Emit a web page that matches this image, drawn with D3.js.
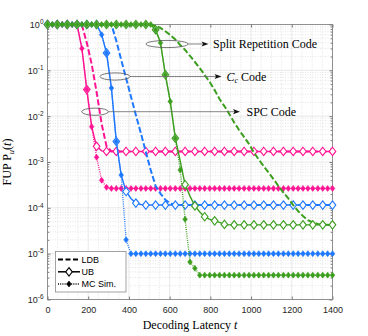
<!DOCTYPE html>
<html>
<head>
<meta charset="utf-8">
<script src="https://cdn.jsdelivr.net/npm/d3@7"></script>
<style>
body { margin: 0; background: #fff; }
svg { display: block; }
.tk text { font-family: "Liberation Sans", Arial, sans-serif; font-size: 9px; fill: #262626; }
.serif { font-family: "Liberation Serif", "Times New Roman", serif; fill: #000; }
.leg { font-family: "Liberation Sans", Arial, sans-serif; font-size: 9px; fill: #000; }
</style>
</head>
<body>
<svg id="chart" width="368" height="336"></svg>
<script>
// decoding latency grid (MC points on every step, UB markers on every 2nd)
var tGrid = [0, 24, 48, 72, 97, 121, 145, 169, 193, 217,
  241, 266, 290, 314, 338, 362, 386, 410, 434, 459,
  483, 507, 531, 555, 579, 603, 628, 652, 676, 700,
  724, 748, 772, 797, 821, 845, 869, 893, 917, 941,
  966, 990, 1014, 1038, 1062, 1086, 1110, 1134, 1159, 1183,
  1207, 1231, 1255, 1279, 1303, 1328, 1352, 1376, 1400];

// SPC code (pink)
var spcLDB = [1, 1, 1, 1, 1, 1, 1, 0.97, 0.40, 0.137,
  0.034, 6.8e-3, 2.2e-3, 1.72e-3, 1.7e-3, 1.7e-3, 1.7e-3, 1.7e-3, 1.7e-3, 1.7e-3,
  1.7e-3, 1.7e-3, 1.7e-3, 1.7e-3, 1.7e-3, 1.7e-3, 1.7e-3, 1.7e-3, 1.7e-3, 1.7e-3,
  1.7e-3, 1.7e-3, 1.7e-3, 1.7e-3, 1.7e-3, 1.7e-3, 1.7e-3, 1.7e-3, 1.7e-3, 1.7e-3,
  1.7e-3, 1.7e-3, 1.7e-3, 1.7e-3, 1.7e-3, 1.7e-3, 1.7e-3, 1.7e-3, 1.7e-3, 1.7e-3,
  1.7e-3, 1.7e-3, 1.7e-3, 1.7e-3, 1.7e-3, 1.7e-3, 1.7e-3, 1.7e-3, 1.7e-3];
var spcUB = [1, 1, 1, 1, 1, 1, 1, 0.3, 0.038, 5.9e-3,
  2.2e-3, 1.75e-3, 1.7e-3, 1.7e-3, 1.7e-3, 1.7e-3, 1.7e-3, 1.7e-3, 1.7e-3, 1.7e-3,
  1.7e-3, 1.7e-3, 1.7e-3, 1.7e-3, 1.7e-3, 1.7e-3, 1.7e-3, 1.7e-3, 1.7e-3, 1.7e-3,
  1.7e-3, 1.7e-3, 1.7e-3, 1.7e-3, 1.7e-3, 1.7e-3, 1.7e-3, 1.7e-3, 1.7e-3, 1.7e-3,
  1.7e-3, 1.7e-3, 1.7e-3, 1.7e-3, 1.7e-3, 1.7e-3, 1.7e-3, 1.7e-3, 1.7e-3, 1.7e-3,
  1.7e-3, 1.7e-3, 1.7e-3, 1.7e-3, 1.7e-3, 1.7e-3, 1.7e-3, 1.7e-3, 1.7e-3];
var spcMC = [1, 1, 1, 1, 1, 1, 1, 0.3, 0.038, 5.9e-3,
  1.27e-3, 4.0e-4, 2.8e-4, 2.65e-4, 2.65e-4, 2.65e-4, 2.65e-4, 2.65e-4, 2.65e-4, 2.65e-4,
  2.65e-4, 2.65e-4, 2.65e-4, 2.65e-4, 2.65e-4, 2.65e-4, 2.65e-4, 2.65e-4, 2.65e-4, 2.65e-4,
  2.65e-4, 2.65e-4, 2.65e-4, 2.65e-4, 2.65e-4, 2.65e-4, 2.65e-4, 2.65e-4, 2.65e-4, 2.65e-4,
  2.65e-4, 2.65e-4, 2.65e-4, 2.65e-4, 2.65e-4, 2.65e-4, 2.65e-4, 2.65e-4, 2.65e-4, 2.65e-4,
  2.65e-4, 2.65e-4, 2.65e-4, 2.65e-4, 2.65e-4, 2.65e-4, 2.65e-4, 2.65e-4, 2.65e-4];

// C_c code (blue)
var ccLDB = [1, 1, 1, 1, 1, 1, 1, 1, 1, 1,
  1, 1, 1, 1, 0.44, 0.17, 0.068, 0.0266, 0.0106, 4.2e-3,
  1.65e-3, 6.7e-4, 3.0e-4, 2.04e-4, 1.5e-4, 1.24e-4, 1.17e-4, 1.15e-4, 1.15e-4, 1.15e-4,
  1.15e-4, 1.15e-4, 1.15e-4, 1.15e-4, 1.15e-4, 1.15e-4, 1.15e-4, 1.15e-4, 1.15e-4, 1.15e-4,
  1.15e-4, 1.15e-4, 1.15e-4, 1.15e-4, 1.15e-4, 1.15e-4, 1.15e-4, 1.15e-4, 1.15e-4, 1.15e-4,
  1.15e-4, 1.15e-4, 1.15e-4, 1.15e-4, 1.15e-4, 1.15e-4, 1.15e-4, 1.15e-4, 1.15e-4];
var ccUB = [1, 1, 1, 1, 1, 1, 1, 1, 1, 1,
  1, 0.6, 0.24, 0.041, 2.8e-3, 5.2e-4, 2.27e-4, 1.6e-4, 1.27e-4, 1.18e-4,
  1.15e-4, 1.15e-4, 1.15e-4, 1.15e-4, 1.15e-4, 1.15e-4, 1.15e-4, 1.15e-4, 1.15e-4, 1.15e-4,
  1.15e-4, 1.15e-4, 1.15e-4, 1.15e-4, 1.15e-4, 1.15e-4, 1.15e-4, 1.15e-4, 1.15e-4, 1.15e-4,
  1.15e-4, 1.15e-4, 1.15e-4, 1.15e-4, 1.15e-4, 1.15e-4, 1.15e-4, 1.15e-4, 1.15e-4, 1.15e-4,
  1.15e-4, 1.15e-4, 1.15e-4, 1.15e-4, 1.15e-4, 1.15e-4, 1.15e-4, 1.15e-4, 1.15e-4];
var ccMC = [1, 1, 1, 1, 1, 1, 1, 1, 1, 1,
  1, 0.6, 0.24, 0.041, 2.8e-3, 5.2e-4, 2.0e-5, 1e-5, 1e-5, 1e-5,
  1e-5, 1e-5, 1e-5, 1e-5, 1e-5, 1e-5, 1e-5, 1e-5, 1e-5, 1e-5,
  1e-5, 1e-5, 1e-5, 1e-5, 1e-5, 1e-5, 1e-5, 1e-5, 1e-5, 1e-5,
  1e-5, 1e-5, 1e-5, 1e-5, 1e-5, 1e-5, 1e-5, 1e-5, 1e-5, 1e-5,
  1e-5, 1e-5, 1e-5, 1e-5, 1e-5, 1e-5, 1e-5, 1e-5, 1e-5];

// split repetition code (green)
var srLDB = [1, 1, 1, 1, 1, 1, 1, 1, 1, 1,
  1, 1, 1, 1, 1, 1, 1, 1, 1, 1,
  1, 1, 0.93, 0.84, 0.71, 0.59, 0.47, 0.357, 0.278, 0.206,
  0.152, 0.112, 0.079, 0.0556, 0.037, 0.0237, 0.0166, 0.0112, 7.3e-3, 5.0e-3,
  3.5e-3, 2.46e-3, 1.62e-3, 1.13e-3, 8.1e-4, 5.9e-4, 4.25e-4, 3.0e-4, 2.15e-4, 1.6e-4,
  1.15e-4, 8.5e-5, 6.6e-5, 5.4e-5, 4.8e-5, 4.45e-5, 4.3e-5, 4.25e-5, 4.2e-5];
var srUB = [1, 1, 1, 1, 1, 1, 1, 1, 1, 1,
  1, 1, 1, 1, 1, 1, 1, 1, 1, 1,
  1, 1, 0.77, 0.4, 0.08, 0.021, 3.3e-3, 1.05e-3, 3.2e-4, 1.8e-4,
  1.1e-4, 8.1e-5, 6.4e-5, 5.6e-5, 5.2e-5, 4.8e-5, 4.35e-5, 4.25e-5, 4.25e-5, 4.25e-5,
  4.25e-5, 4.25e-5, 4.25e-5, 4.25e-5, 4.25e-5, 4.25e-5, 4.25e-5, 4.25e-5, 4.25e-5, 4.25e-5,
  4.25e-5, 4.25e-5, 4.25e-5, 4.25e-5, 4.25e-5, 4.25e-5, 4.25e-5, 4.25e-5, 4.25e-5];
var srMC = [1, 1, 1, 1, 1, 1, 1, 1, 1, 1,
  1, 1, 1, 1, 1, 1, 1, 1, 1, 1,
  1, 1, 0.77, 0.4, 0.08, 0.021, 3.3e-3, 6.7e-4, 5.6e-5, 6.6e-6,
  4.8e-6, 3.4e-6, 3.4e-6, 3.4e-6, 3.4e-6, 3.4e-6, 3.4e-6, 3.4e-6, 3.4e-6, 3.4e-6,
  3.4e-6, 3.4e-6, 3.4e-6, 3.4e-6, 3.4e-6, 3.4e-6, 3.4e-6, 3.4e-6, 3.4e-6, 3.4e-6,
  3.4e-6, 3.4e-6, 3.4e-6, 3.4e-6, 3.4e-6, 3.4e-6, 3.4e-6, 3.4e-6, 3.4e-6];

var codeColors = ["#ff1493", "#1e78ff", "#3c9e1e"];
var xTicks = [0, 200, 400, 600, 800, 1000, 1200, 1400];
var yTicks = [1e-6, 1e-5, 1e-4, 1e-3, 1e-2, 1e-1, 1];
var legendNames = ["LDB", "UB", "MC Sim."];

var svg = d3.select("#chart");
var pL = 47.5, pR = 332.5, pT = 24.5, pB = 299.5;

var x = d3.scaleLinear().domain([0, 1400]).range([pL, pR]);
var y = d3.scaleLog().domain([1e-6, 1]).range([pB, pT]);

// grid
var xMinor = d3.range(50, 1400, 50).filter(function(v) { return v % 200 != 0; });
var yMinor = [];
for (var e = -6; e < 0; e++) {
  for (var m = 2; m < 10; m++) yMinor.push(m * Math.pow(10, e));
}
var grid = svg.append("g");
grid.selectAll(".xm").data(xMinor).enter().append("line")
  .attr("x1", function(d) { return x(d); }).attr("x2", function(d) { return x(d); })
  .attr("y1", pT).attr("y2", pB)
  .attr("stroke", "#d4d4d4").attr("stroke-width", 0.6).attr("stroke-dasharray", "1,1.5");
grid.selectAll(".ym").data(yMinor).enter().append("line")
  .attr("x1", pL).attr("x2", pR)
  .attr("y1", function(d) { return y(d); }).attr("y2", function(d) { return y(d); })
  .attr("stroke", "#d4d4d4").attr("stroke-width", 0.6).attr("stroke-dasharray", "1,1.5");
grid.selectAll(".xM").data(xTicks).enter().append("line")
  .attr("x1", function(d) { return x(d); }).attr("x2", function(d) { return x(d); })
  .attr("y1", pT).attr("y2", pB)
  .attr("stroke", "#e2e2e2").attr("stroke-width", 0.8);
grid.selectAll(".yM").data(yTicks).enter().append("line")
  .attr("x1", pL).attr("x2", pR)
  .attr("y1", function(d) { return y(d); }).attr("y2", function(d) { return y(d); })
  .attr("stroke", "#e2e2e2").attr("stroke-width", 0.8);

// axes
svg.append("g").attr("class", "tk")
  .attr("transform", "translate(0," + pB + ")")
  .call(d3.axisBottom(x).tickValues(xTicks).tickSizeInner(-3).tickSizeOuter(0).tickPadding(7)
    .tickFormat(d3.format("d")));
svg.append("g").attr("class", "tk")
  .attr("transform", "translate(0," + pT + ")")
  .call(d3.axisTop(x).tickValues(xTicks).tickSizeInner(-3).tickSizeOuter(0).tickFormat(""));
var yAxis = svg.append("g").attr("class", "tk")
  .attr("transform", "translate(" + pL + ",0)")
  .call(d3.axisLeft(y).tickValues(yTicks).tickSizeInner(-3).tickSizeOuter(0).tickPadding(4));
svg.append("g").attr("class", "tk")
  .attr("transform", "translate(" + pR + ",0)")
  .call(d3.axisRight(y).tickValues(yTicks).tickSizeInner(-3).tickSizeOuter(0).tickFormat(""));
svg.append("g").attr("transform", "translate(" + pL + ",0)")
  .call(d3.axisLeft(y).tickValues(yMinor).tickSizeInner(-1.8).tickSizeOuter(0).tickFormat(""));
svg.append("g").attr("transform", "translate(" + pR + ",0)")
  .call(d3.axisRight(y).tickValues(yMinor).tickSizeInner(-1.8).tickSizeOuter(0).tickFormat(""));
svg.selectAll(".domain").remove();
svg.selectAll(".tick line").attr("stroke", "#262626").attr("stroke-width", 0.6);

// y labels with exponent
yAxis.selectAll(".tick text").each(function(d) {
  var t = d3.select(this).text(null);
  t.append("tspan").text("10");
  t.append("tspan").attr("dy", "-3.6").style("font-size", "6.5px")
    .text(Math.round(Math.log10(d)));
});

// box
svg.append("rect").attr("x", pL).attr("y", pT)
  .attr("width", pR - pL).attr("height", pB - pT)
  .attr("fill", "none").attr("stroke", "#7a7a7a").attr("stroke-width", 0.8);

// curves
var line = d3.line()
  .x(function(d, i) { return x(tGrid[i]); })
  .y(function(d) { return y(d); });

var diamondBig = "M0,-4.2L3.3,0L0,4.2L-3.3,0Z";
var diamondSmall = "M0,-3L2.3,0L0,3L-2.3,0Z";

var allSeries = [[spcLDB, spcUB, spcMC], [ccLDB, ccUB, ccMC], [srLDB, srUB, srMC]];

allSeries.forEach(function(s, c) {
  var col = codeColors[c];
  var g = svg.append("g");
  g.append("path").attr("d", line(s[0])).attr("fill", "none")
    .attr("stroke", col).attr("stroke-width", 2).attr("stroke-dasharray", "6,2.5");
  g.append("path").attr("d", line(s[1])).attr("fill", "none")
    .attr("stroke", col).attr("stroke-width", 1.4);
  g.append("path").attr("d", line(s[2])).attr("fill", "none")
    .attr("stroke", col).attr("stroke-width", 1.3).attr("stroke-dasharray", "1,1.2");
  g.selectAll(".ub").data(s[1].filter(function(d, i) { return i % 2 == 0; })).enter()
    .append("path").attr("d", diamondBig)
    .attr("transform", function(d, i) { return "translate(" + x(tGrid[2 * i]) + "," + y(d) + ")"; })
    .attr("fill", "#fff").attr("stroke", col).attr("stroke-width", 1.1);
  g.selectAll(".mc").data(s[2]).enter()
    .append("path").attr("d", diamondSmall)
    .attr("transform", function(d, i) { return "translate(" + x(tGrid[i]) + "," + y(d) + ")"; })
    .attr("fill", col).attr("stroke", col).attr("stroke-width", 0.6);
});

// annotations
function arrowNote(cx, cy, rx, tipX, tx, ty) {
  svg.append("ellipse").attr("cx", cx).attr("cy", cy).attr("rx", rx).attr("ry", 3.6)
    .attr("fill", "none").attr("stroke", "#555").attr("stroke-width", 0.8);
  svg.append("line").attr("x1", cx + rx).attr("x2", tipX - 4).attr("y1", cy).attr("y2", cy)
    .attr("stroke", "#666").attr("stroke-width", 0.8);
  svg.append("path").attr("d", "M" + tipX + "," + cy + "l-7,-2.6l1.6,2.6l-1.6,2.6z").attr("fill", "#111");
  return svg.append("text").attr("class", "serif").attr("x", tx).attr("y", ty).style("font-size", "12px");
}
arrowNote(167, 44, 21, 208.5, 213, 47.8).text("Split Repetition Code");
var ccText = arrowNote(115, 76.5, 15, 221.5, 226.5, 80.5);
ccText.append("tspan").style("font-style", "italic").text("C");
ccText.append("tspan").style("font-style", "italic").style("font-size", "8px").attr("dy", 2).text("c");
ccText.append("tspan").attr("dy", -2).text(" Code");
arrowNote(95, 111.7, 13.3, 240, 246.5, 115.6).text("SPC Code");

// axis labels
var xl = svg.append("text").attr("class", "serif").attr("x", (pL + pR) / 2).attr("y", 329)
  .attr("text-anchor", "middle").style("font-size", "12px");
xl.append("tspan").text("Decoding Latency ");
xl.append("tspan").style("font-style", "italic").text("t");

var yl = svg.append("text").attr("class", "serif")
  .attr("transform", "translate(11," + ((pT + pB) / 2) + ") rotate(-90)")
  .attr("text-anchor", "middle").style("font-size", "12px");
yl.append("tspan").text("FUP P");
yl.append("tspan").style("font-style", "italic").style("font-size", "8.5px").attr("dy", 2.5).text("u");
yl.append("tspan").attr("dy", -2.5).text("(");
yl.append("tspan").style("font-style", "italic").text("t");
yl.append("tspan").text(")");

// legend
var lg = svg.append("g");
lg.append("rect").attr("x", 55.5).attr("y", 251.5).attr("width", 70.5).attr("height", 40.5)
  .attr("fill", "#fff").attr("stroke", "#8c8c8c").attr("stroke-width", 0.8);
var legY = [259.5, 271.8, 284];
var legDash = ["5,2.5", null, "1,1.2"];
var legW = [2, 1.5, 1.4];
legendNames.forEach(function(name, i) {
  lg.append("line").attr("x1", 58).attr("x2", 80).attr("y1", legY[i]).attr("y2", legY[i])
    .attr("stroke", "#000").attr("stroke-width", legW[i]).attr("stroke-dasharray", legDash[i]);
  if (i == 1) {
    lg.append("path").attr("d", diamondBig).attr("transform", "translate(69," + legY[i] + ")")
      .attr("fill", "#fff").attr("stroke", "#000").attr("stroke-width", 1.1);
  }
  if (i == 2) {
    lg.append("path").attr("d", diamondSmall).attr("transform", "translate(69," + legY[i] + ")")
      .attr("fill", "#000").attr("stroke", "#000").attr("stroke-width", 0.6);
  }
  lg.append("text").attr("class", "leg").attr("x", 81.5).attr("y", legY[i]).attr("dy", "0.35em").text(name);
});
</script>
</body>
</html>
